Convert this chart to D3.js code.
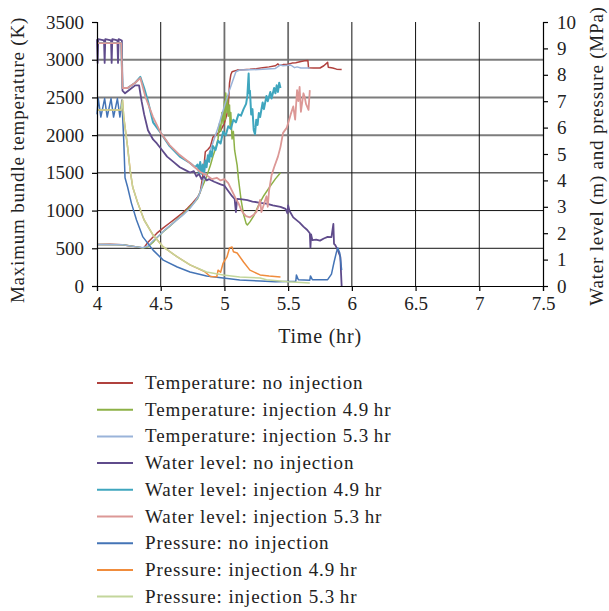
<!DOCTYPE html>
<html>
<head>
<meta charset="utf-8">
<script src="https://cdn.jsdelivr.net/npm/d3@7"></script>
<style>
  html, body { margin: 0; padding: 0; background: #fff; }
  svg text { font-family: "Liberation Serif", "Times New Roman", serif; fill: #222; }
</style>
</head>
<body>
<svg id="chart" width="609" height="611"></svg>
<script>
// Axis ranges and ticks
const timeTicks = [4, 4.5, 5, 5.5, 6, 6.5, 7, 7.5];
const tempTicks = [0, 500, 1000, 1500, 2000, 2500, 3000, 3500];
const rightTicks = [0, 1, 2, 3, 4, 5, 6, 7, 8, 9, 10];

// Maximum bundle temperature (K) vs time (hr)
const tempNoInj = [[4.00,550],[4.10,552],[4.20,548],[4.25,535],[4.30,522],[4.35,506],[4.37,510],[4.40,580],[4.44,650],[4.47,700],[4.52,770],[4.57,835],[4.62,900],[4.67,968],[4.71,1030],[4.75,1100],[4.79,1180],[4.81,1240],[4.82,1350],[4.83,1460],[4.84,1600],[4.85,1780],[4.87,1810],[4.89,1850],[4.91,1975],[4.94,2010],[4.97,2060],[5.00,2160],[5.02,2280],[5.03,2380],[5.04,2690],[5.05,2800],[5.06,2840],[5.10,2862],[5.15,2868],[5.20,2872],[5.25,2880],[5.30,2895],[5.35,2905],[5.40,2920],[5.42,2945],[5.43,2925],[5.46,2935],[5.50,2940],[5.53,2955],[5.56,2960],[5.60,2975],[5.63,2985],[5.655,2990],[5.66,2895],[5.70,2890],[5.75,2890],[5.78,2920],[5.81,2965],[5.815,2900],[5.85,2890],[5.88,2875],[5.92,2870]];
const tempInj49 = [[4.00,550],[4.20,548],[4.30,522],[4.36,505],[4.40,520],[4.44,580],[4.47,640],[4.52,720],[4.57,790],[4.62,870],[4.67,940],[4.72,1030],[4.76,1100],[4.79,1160],[4.81,1250],[4.83,1330],[4.86,1450],[4.89,1600],[4.91,1720],[4.93,1820],[4.95,1950],[4.96,2150],[4.97,2050],[4.98,2300],[4.99,2150],[5.00,2450],[5.005,2200],[5.01,2560],[5.02,2300],[5.025,2520],[5.03,2250],[5.04,2400],[5.045,2100],[5.05,2300],[5.06,1950],[5.07,2050],[5.08,1800],[5.09,1700],[5.10,1600],[5.11,1420],[5.13,1150],[5.15,950],[5.17,830],[5.18,810],[5.20,850],[5.23,930],[5.27,1080],[5.31,1200],[5.35,1300],[5.40,1420],[5.44,1500]];
const tempInj53 = [[4.00,550],[4.20,548],[4.30,522],[4.36,507],[4.40,530],[4.44,600],[4.48,660],[4.53,740],[4.58,810],[4.63,880],[4.68,950],[4.73,1030],[4.77,1120],[4.80,1200],[4.82,1300],[4.84,1450],[4.85,1600],[4.87,1710],[4.91,1900],[4.95,2100],[4.99,2330],[5.04,2600],[5.09,2840],[5.12,2864],[5.20,2866],[5.30,2872],[5.40,2885],[5.44,2930],[5.46,2920],[5.52,2930],[5.55,2895],[5.57,2905],[5.60,2890],[5.64,2890],[5.67,2890]];

// Water level (m) vs time (hr)
const levelNoInj = [[4.00,9.35],[4.005,8.45],[4.01,9.35],[4.055,9.3],[4.06,8.45],[4.065,9.35],[4.11,9.3],[4.115,8.45],[4.12,9.35],[4.16,9.3],[4.165,8.45],[4.17,9.35],[4.195,9.3],[4.20,7.4],[4.22,7.3],[4.26,7.45],[4.30,7.6],[4.33,7.6],[4.35,7.0],[4.37,6.5],[4.40,5.9],[4.44,5.55],[4.47,5.4],[4.51,5.15],[4.55,4.9],[4.60,4.7],[4.65,4.5],[4.69,4.4],[4.73,4.3],[4.76,4.35],[4.78,4.15],[4.80,4.25],[4.82,4.05],[4.84,4.15],[4.86,4.0],[4.88,4.05],[4.92,3.95],[4.97,3.85],[5.00,3.8],[5.03,3.6],[5.06,3.4],[5.08,3.3],[5.09,2.8],[5.10,3.3],[5.14,3.28],[5.18,3.25],[5.22,3.2],[5.28,3.15],[5.33,3.12],[5.38,3.05],[5.44,3.0],[5.48,2.92],[5.495,2.75],[5.50,3.05],[5.51,2.85],[5.54,2.6],[5.59,2.4],[5.62,2.25],[5.65,2.12],[5.67,2.0],[5.675,1.45],[5.68,1.95],[5.69,1.74],[5.72,1.76],[5.75,1.72],[5.78,1.8],[5.81,1.86],[5.84,1.85],[5.855,2.35],[5.86,1.6],[5.87,1.55],[5.89,1.36],[5.91,1.1],[5.915,0.5],[5.92,0]];
const levelInj49 = [[4.00,9.2],[4.19,9.2],[4.20,7.5],[4.24,7.5],[4.30,7.7],[4.34,7.92],[4.37,7.5],[4.40,7.0],[4.44,6.2],[4.50,5.8],[4.57,5.3],[4.65,4.9],[4.73,4.66],[4.77,4.5],[4.79,4.6],[4.80,4.3],[4.81,4.7],[4.82,4.25],[4.83,4.6],[4.84,4.3],[4.85,4.75],[4.86,4.5],[4.87,4.95],[4.88,4.7],[4.89,5.1],[4.90,4.9],[4.91,5.3],[4.93,5.15],[4.95,5.5],[4.97,5.4],[4.99,5.85],[5.01,5.7],[5.03,6.05],[5.05,5.95],[5.07,6.3],[5.09,6.2],[5.11,6.5],[5.13,6.45],[5.15,6.7],[5.17,6.9],[5.18,7.2],[5.19,8.05],[5.195,7.3],[5.20,7.4],[5.21,6.5],[5.22,6.7],[5.23,5.9],[5.24,5.75],[5.25,6.3],[5.26,6.1],[5.27,6.55],[5.28,6.4],[5.30,6.95],[5.31,6.7],[5.33,7.2],[5.34,7.0],[5.36,7.35],[5.37,7.1],[5.39,7.5],[5.40,7.3],[5.41,7.6],[5.42,7.35],[5.43,7.7],[5.44,7.5]];
const levelInj53 = [[4.00,9.2],[4.19,9.2],[4.20,7.5],[4.24,7.5],[4.30,7.7],[4.34,7.88],[4.38,7.16],[4.44,6.4],[4.50,5.8],[4.57,5.34],[4.65,4.96],[4.73,4.66],[4.81,4.32],[4.86,4.2],[4.90,4.05],[4.94,4.1],[4.97,4.0],[5.00,4.05],[5.03,3.9],[5.05,3.7],[5.07,3.5],[5.09,3.3],[5.11,3.14],[5.13,2.9],[5.15,2.75],[5.17,2.65],[5.20,2.6],[5.23,2.7],[5.25,2.8],[5.27,3.05],[5.28,3.26],[5.29,2.8],[5.31,3.1],[5.33,3.4],[5.34,3.0],[5.35,3.6],[5.37,4.2],[5.39,4.5],[5.42,4.9],[5.44,5.27],[5.46,5.8],[5.49,6.0],[5.52,6.5],[5.54,6.8],[5.555,6.3],[5.57,7.42],[5.58,7.0],[5.59,7.54],[5.60,6.6],[5.62,7.3],[5.63,7.16],[5.64,6.9],[5.66,6.67],[5.67,7.42]];

// Pressure (MPa) vs time (hr)
const pressNoInj = [[4.00,6.5],[4.01,7.1],[4.03,6.4],[4.06,7.1],[4.08,6.4],[4.11,7.1],[4.13,6.4],[4.16,7.1],[4.18,6.4],[4.195,7.05],[4.21,5.5],[4.22,4.1],[4.24,3.75],[4.27,3.14],[4.31,2.5],[4.36,1.86],[4.44,1.36],[4.52,0.98],[4.63,0.72],[4.73,0.53],[4.86,0.38],[4.99,0.30],[5.12,0.23],[5.28,0.19],[5.40,0.16],[5.56,0.18],[5.565,0.42],[5.58,0.24],[5.67,0.22],[5.675,0.38],[5.69,0.24],[5.81,0.24],[5.84,0.45],[5.86,0.9],[5.88,1.3],[5.89,1.44],[5.905,1.25],[5.92,0.6]];
const pressInj49 = [[4.00,6.67],[4.19,6.67],[4.20,7.04],[4.21,6.4],[4.24,5.27],[4.26,4.39],[4.28,3.75],[4.32,3.14],[4.37,2.5],[4.44,1.93],[4.52,1.48],[4.63,1.1],[4.73,0.8],[4.84,0.56],[4.89,0.36],[4.94,0.35],[4.95,0.6],[4.97,0.52],[4.99,0.87],[5.02,1.1],[5.04,1.44],[5.06,1.48],[5.07,1.3],[5.10,1.25],[5.15,0.91],[5.20,0.6],[5.28,0.42],[5.35,0.38],[5.44,0.34]];
const pressInj53 = [[4.00,6.67],[4.19,6.67],[4.20,7.04],[4.21,6.4],[4.24,5.27],[4.26,4.39],[4.28,3.75],[4.32,3.14],[4.37,2.5],[4.44,1.93],[4.52,1.48],[4.63,1.1],[4.73,0.8],[4.86,0.53],[4.99,0.42],[5.12,0.34],[5.28,0.30],[5.33,0.24],[5.50,0.16],[5.67,0.11]];

const seriesNames = [
  "Temperature: no injection",
  "Temperature: injection 4.9\u2009hr",
  "Temperature: injection 5.3\u2009hr",
  "Water level: no injection",
  "Water level: injection 4.9\u2009hr",
  "Water level: injection 5.3\u2009hr",
  "Pressure: no injection",
  "Pressure: injection 4.9\u2009hr",
  "Pressure: injection 5.3\u2009hr"
];
const seriesColors = ["#b0413e", "#8db146", "#9ab3d9", "#5f4b8b", "#3fa6be", "#dc9896", "#4474b6", "#f08c3c", "#c3d69b"];

const series = [
  { data: tempNoInj, axis: "left", w: 1.5 },
  { data: tempInj49, axis: "left", w: 1.5 },
  { data: tempInj53, axis: "left", w: 1.5 },
  { data: levelNoInj, axis: "right", w: 1.8 },
  { data: levelInj49, axis: "right", w: 2.0 },
  { data: levelInj53, axis: "right", w: 1.8 },
  { data: pressNoInj, axis: "right", w: 1.5 },
  { data: pressInj49, axis: "right", w: 1.5 },
  { data: pressInj53, axis: "right", w: 1.5 }
];

const svg = d3.select("#chart");
const plotLeft = 97, plotRight = 543, plotTop = 22, plotBottom = 286;

const x = d3.scaleLinear().domain([4, 7.5]).range([plotLeft, plotRight]);
const yL = d3.scaleLinear().domain([0, 3500]).range([plotBottom, plotTop]);
const yR = d3.scaleLinear().domain([0, 10]).range([plotBottom, plotTop]);

// Grid
const grid = svg.append("g");
tempTicks.filter(v => v > 0 && v < 3500).forEach(v => {
  const heavy = v >= 2000;
  grid.append("line")
    .attr("x1", plotLeft).attr("x2", plotRight)
    .attr("y1", yL(v)).attr("y2", yL(v))
    .attr("stroke", heavy ? "#7d7d7d" : "#111")
    .attr("stroke-width", heavy ? 2 : 1);
});
timeTicks.filter(v => v > 4 && v < 7.5).forEach(v => {
  const heavy = v === 5 || v === 5.5;
  grid.append("line")
    .attr("x1", x(v)).attr("x2", x(v))
    .attr("y1", plotTop).attr("y2", plotBottom)
    .attr("stroke", heavy ? "#6e6e6e" : "#111")
    .attr("stroke-width", heavy ? 1.8 : 1);
});

// Series
const plot = svg.append("g");
series.forEach((s, i) => {
  const yS = s.axis === "left" ? yL : yR;
  const line = d3.line().x(d => x(d[0])).y(d => yS(d[1]));
  plot.append("path")
    .datum(s.data)
    .attr("d", line)
    .attr("fill", "none")
    .attr("stroke", seriesColors[i])
    .attr("stroke-width", s.w)
    .attr("stroke-linejoin", "round");
});

// Axes
const fontSize = 19;
const axisL = svg.append("g").attr("transform", `translate(${plotLeft},0)`)
  .call(d3.axisLeft(yL).tickValues(tempTicks).tickSize(5).tickPadding(8).tickFormat(d3.format("d")));
const axisR = svg.append("g").attr("transform", `translate(${plotRight},0)`)
  .call(d3.axisRight(yR).tickValues(rightTicks).tickSize(5).tickPadding(9).tickFormat(d3.format("d")));
const axisB = svg.append("g").attr("transform", `translate(0,${plotBottom})`)
  .call(d3.axisBottom(x).tickValues(timeTicks).tickSize(5).tickPadding(6).tickFormat(d => d));
[axisL, axisR, axisB].forEach(a => {
  a.select(".domain").attr("stroke", "#000").attr("stroke-width", 1.2);
  a.selectAll(".tick line").attr("stroke", "#000").attr("stroke-width", 1.2);
  a.selectAll("text").style("font-family", "'Liberation Serif', serif").style("font-size", fontSize + "px").attr("fill", "#222");
});

// Axis titles
svg.append("text")
  .attr("transform", `translate(24,${(plotTop + plotBottom) / 2 + 6}) rotate(-90)`)
  .attr("text-anchor", "middle")
  .style("font-size", fontSize + "px")
  .style("letter-spacing", "0.8px")
  .text("Maximum bundle temperature (K)");
svg.append("text")
  .attr("transform", `translate(603,${(plotTop + plotBottom) / 2 + 2}) rotate(-90)`)
  .attr("text-anchor", "middle")
  .style("font-size", fontSize + "px")
  .style("letter-spacing", "0.8px")
  .text("Water level (m) and pressure (MPa)");
svg.append("text")
  .attr("x", (plotLeft + plotRight) / 2).attr("y", 343)
  .attr("text-anchor", "middle")
  .style("font-size", "20px")
  .style("letter-spacing", "0.8px")
  .text("Time (hr)");

// Legend
const legend = svg.append("g");
seriesNames.forEach((name, i) => {
  const cy = 383 + i * 26.7;
  legend.append("line")
    .attr("x1", 97).attr("x2", 133)
    .attr("y1", cy).attr("y2", cy)
    .attr("stroke", seriesColors[i]).attr("stroke-width", 2);
  legend.append("text")
    .attr("x", 145).attr("y", cy + 6)
    .style("font-size", fontSize + "px")
    .style("letter-spacing", "0.9px")
    .text(name);
});
</script>
</body>
</html>
